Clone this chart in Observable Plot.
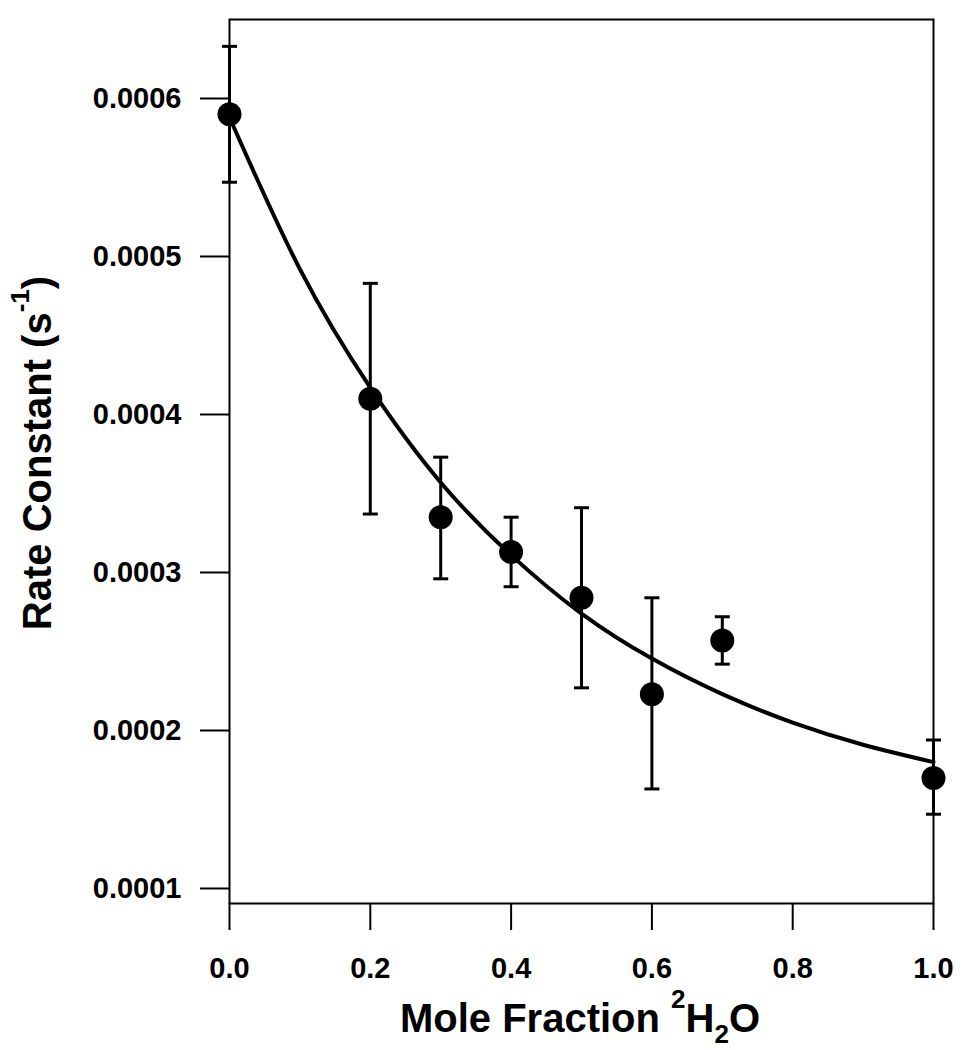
<!DOCTYPE html>
<html>
<head>
<meta charset="utf-8">
<script src="https://cdn.jsdelivr.net/npm/d3@7"></script>
<script src="https://cdn.jsdelivr.net/npm/@observablehq/plot@0.6"></script>
<style>
  body { margin: 0; background: #fff; }
  #chart svg { font-family: "Liberation Sans", Arial, sans-serif; display: block; }
</style>
</head>
<body>
<div id="chart"></div>
<script>
const moleFraction = [0.0, 0.2, 0.3, 0.4, 0.5, 0.6, 0.7, 1.0];
const rateConstant = [0.000590, 0.000410, 0.000335, 0.000313, 0.000284, 0.000223, 0.000257, 0.000170];
const errorUpper   = [0.000633, 0.000483, 0.000373, 0.000335, 0.000341, 0.000284, 0.000272, 0.000194];
const errorLower   = [0.000547, 0.000337, 0.000296, 0.000291, 0.000227, 0.000163, 0.000242, 0.000147];

// Fitted curve at regular x positions
const fitX = [0.0, 0.1, 0.2, 0.3, 0.4, 0.5, 0.6, 0.7, 0.8, 0.9, 1.0];
const fitY = [0.000588, 0.000492, 0.000417, 0.000357, 0.000311, 0.000274, 0.0002455, 0.000223, 0.000205, 0.000191, 0.000180];

// Tick values
const xTicks = [0.0, 0.2, 0.4, 0.6, 0.8, 1.0];
const yTicks = [0.0001, 0.0002, 0.0003, 0.0004, 0.0005, 0.0006];

const points = moleFraction.map((x, i) => ({x, y: rateConstant[i], hi: errorUpper[i], lo: errorLower[i]}));
const fit = fitX.map((x, i) => ({x, y: fitY[i]}));

const capSymbol = {
  draw(context) {
    context.moveTo(-7.5, 0);
    context.lineTo(7.5, 0);
  }
};

const chart = Plot.plot({
  width: 968,
  height: 1050,
  marginLeft: 229,
  marginRight: 35,
  marginTop: 19,
  marginBottom: 147,
  x: {domain: [0, 1]},
  y: {domain: [0.0000905, 0.00065]},
  style: {
    fontFamily: '"Liberation Sans", Arial, sans-serif',
    fontWeight: "bold",
    fontSize: "29px",
    color: "black",
    background: "white"
  },
  marks: [
    Plot.frame({stroke: "black", strokeWidth: 2}),
    Plot.axisY(yTicks, {
      tickSize: 29, tickPadding: 19, tickFormat: d3.format(".4f"),
      strokeWidth: 2, label: null, fontSize: 29, fontWeight: "bold"
    }),
    Plot.axisX(xTicks, {
      tickSize: 27, tickPadding: 27, tickFormat: d3.format(".1f"),
      strokeWidth: 2, label: null, fontSize: 29, fontWeight: "bold"
    }),
    Plot.line(fit, {x: "x", y: "y", curve: "natural", stroke: "black", strokeWidth: 4}),
    Plot.ruleX(points, {x: "x", y1: "lo", y2: "hi", stroke: "black", strokeWidth: 3}),
    Plot.dot(points, {x: "x", y: "hi", symbol: capSymbol, r: 8, fill: "none", stroke: "black", strokeWidth: 3}),
    Plot.dot(points, {x: "x", y: "lo", symbol: capSymbol, r: 8, fill: "none", stroke: "black", strokeWidth: 3}),
    Plot.dot(points, {x: "x", y: "y", r: 12, fill: "black", stroke: "none"})
  ]
});

const svg = d3.select(chart);

// X axis title: Mole Fraction ²H₂O
const xt = svg.append("text")
  .attr("x", 580).attr("y", 1032)
  .attr("text-anchor", "middle")
  .attr("font-size", 40).attr("font-weight", "bold").attr("fill", "black");
xt.append("tspan").text("Mole Fraction ");
xt.append("tspan").attr("font-size", 26).attr("dy", -24).text("2");
xt.append("tspan").attr("dy", 24).text("H");
xt.append("tspan").attr("font-size", 26).attr("dy", 11).text("2");
xt.append("tspan").attr("dy", -11).text("O");

// Y axis title: Rate Constant (s⁻¹)
const yt = svg.append("text")
  .attr("transform", "translate(51,453) rotate(-90)")
  .attr("text-anchor", "middle")
  .attr("font-size", 40).attr("font-weight", "bold").attr("fill", "black");
yt.append("tspan").text("Rate Constant (s");
yt.append("tspan").attr("font-size", 26).attr("dy", -22).text("-1");
yt.append("tspan").attr("dy", 22).text(")");

document.getElementById("chart").appendChild(chart);
</script>
</body>
</html>
